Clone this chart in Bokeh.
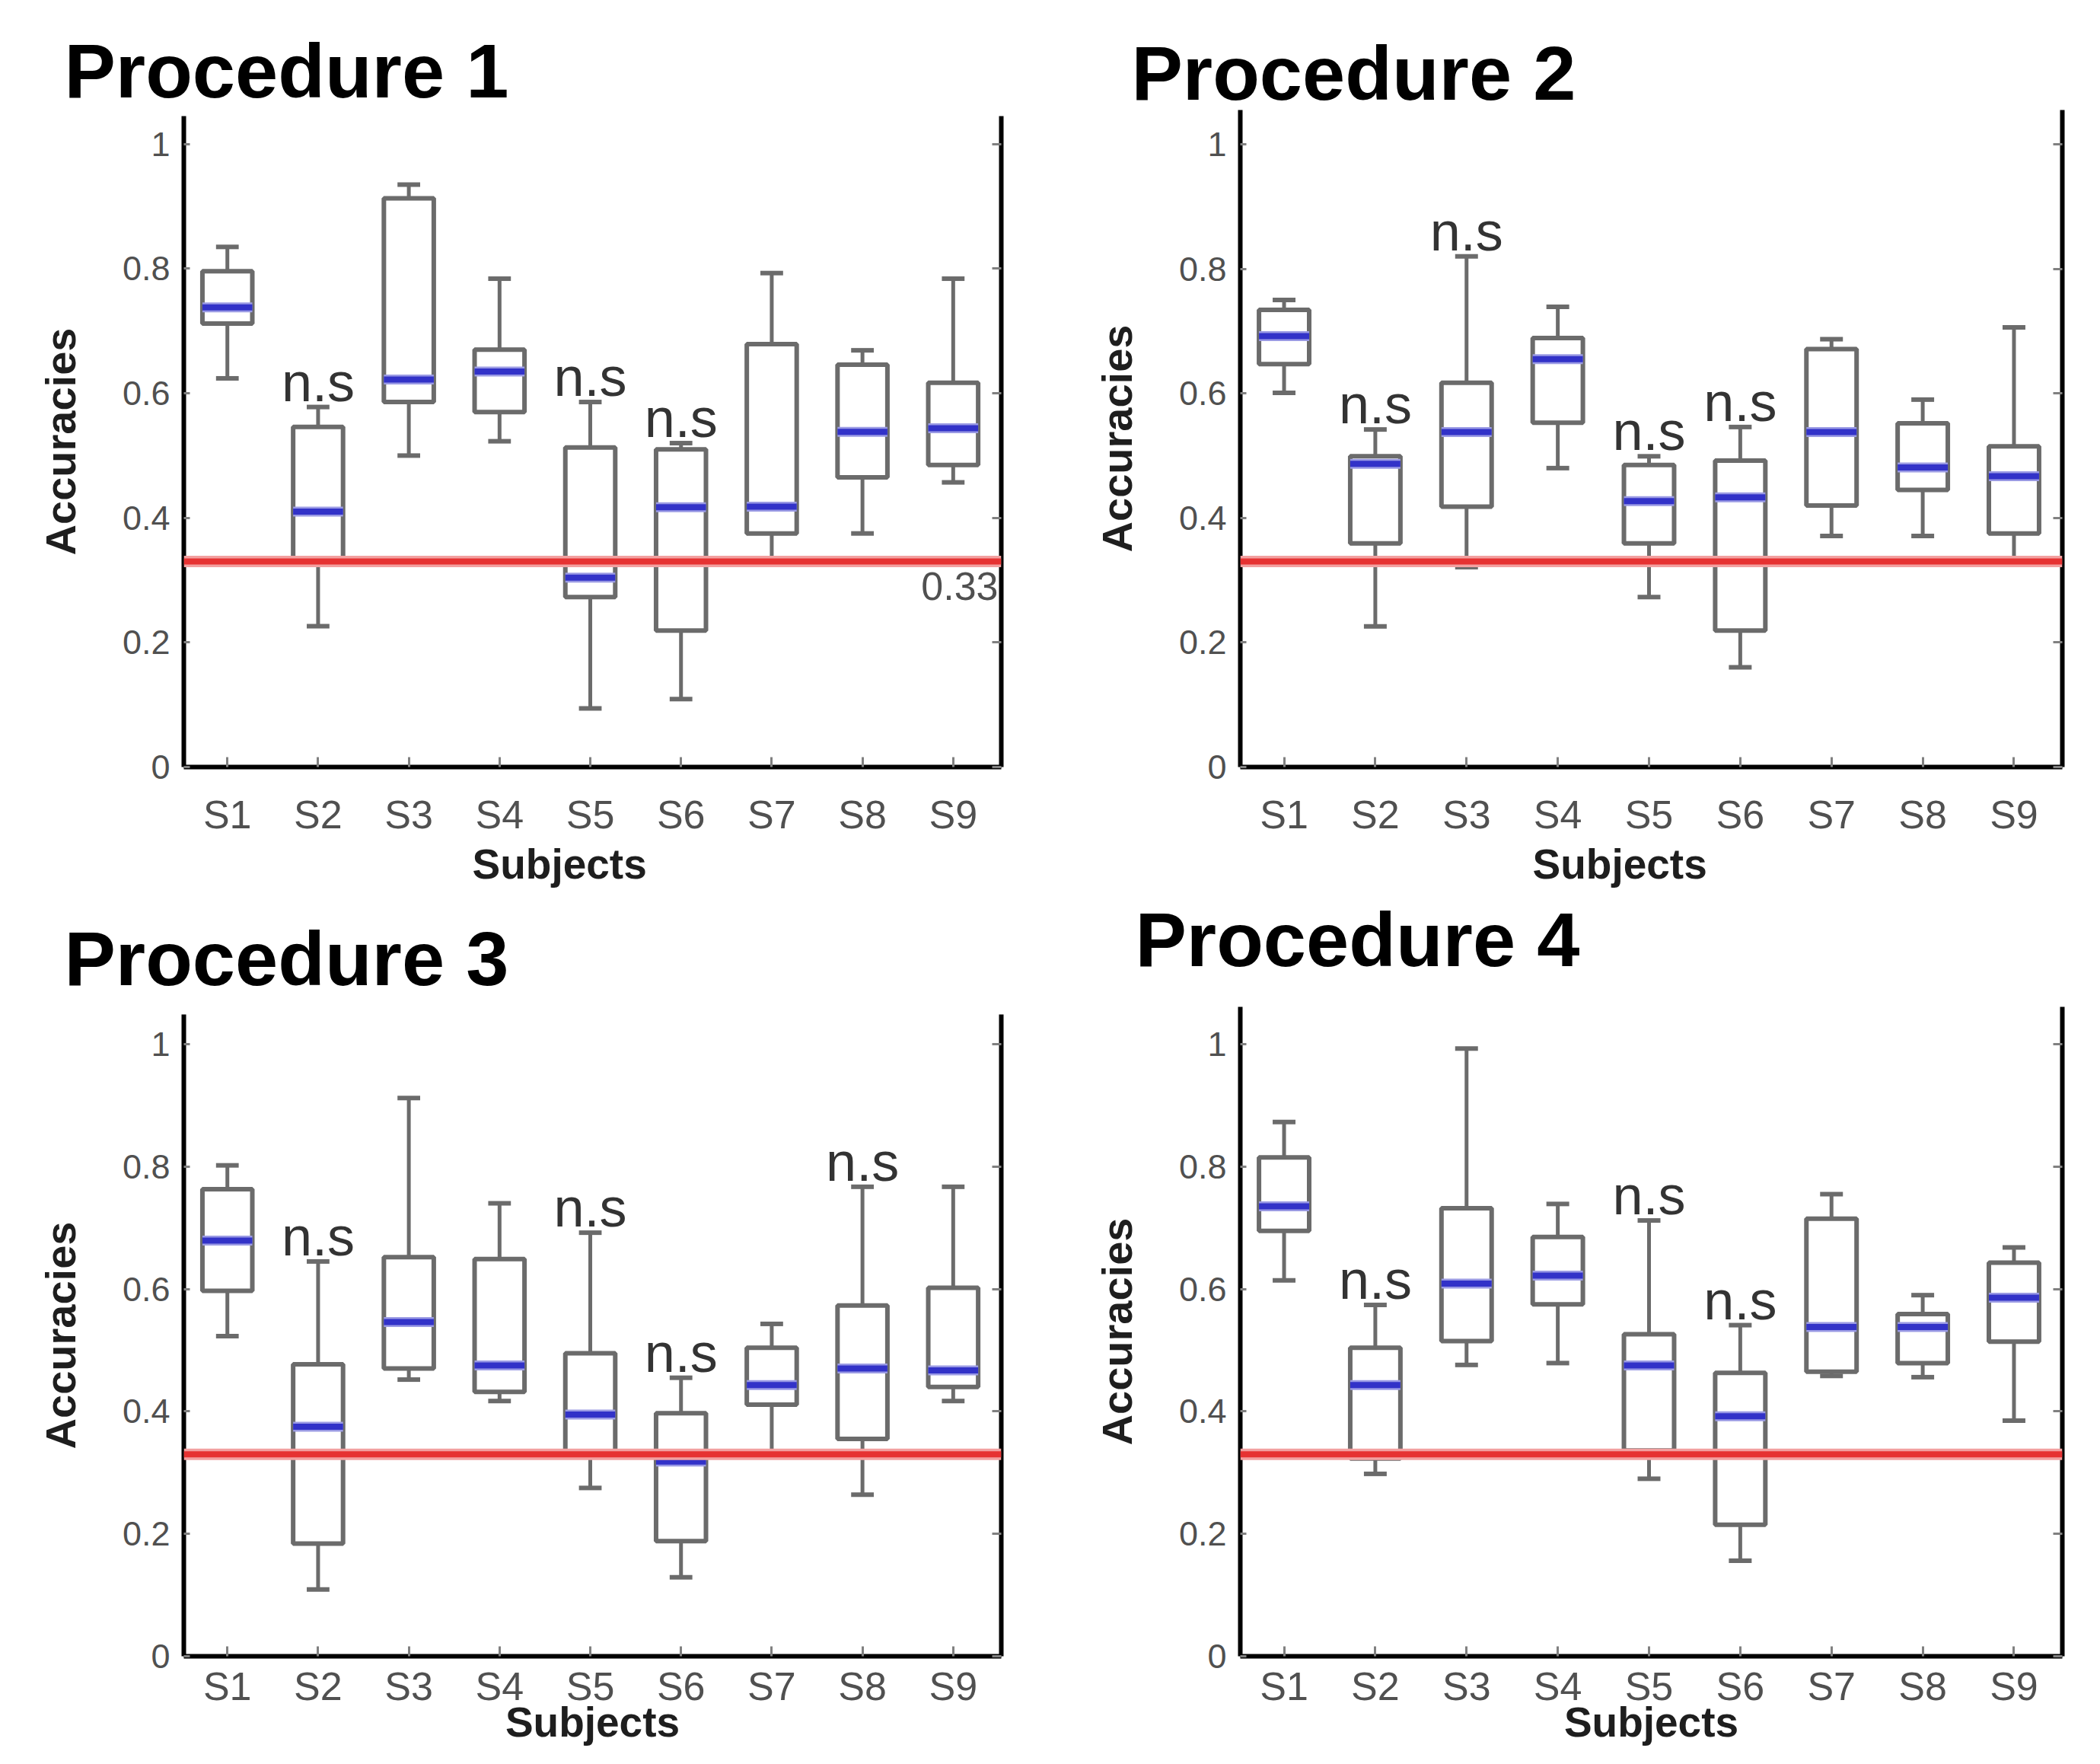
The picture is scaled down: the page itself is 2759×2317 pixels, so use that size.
from bokeh.plotting import figure
from bokeh.models import Range1d, LinearAxis, FixedTicker, Label, Span, ColumnDataSource, Title
from bokeh.layouts import column, row
from bokeh.embed import file_html
from bokeh.resources import INLINE
from bokeh.core.properties import value

# ---------------- data ----------------
subjects = ["S1", "S2", "S3", "S4", "S5", "S6", "S7", "S8", "S9"]
y_ticks = [0, 0.2, 0.4, 0.6, 0.8, 1.0]
y_tick_labels = ["0", "0.2", "0.4", "0.6", "0.8", "1"]
chance_level = 0.33
titles = ["Procedure 1", "Procedure 2", "Procedure 3", "Procedure 4"]

p1_high = [0.835, 0.578, 0.935, 0.784, 0.586, 0.520, 0.793, 0.669, 0.784]
p1_q3   = [0.796, 0.546, 0.913, 0.670, 0.513, 0.510, 0.679, 0.646, 0.617]
p1_med  = [0.738, 0.410, 0.622, 0.635, 0.304, 0.417, 0.418, 0.538, 0.544]
p1_q1   = [0.712, 0.332, 0.586, 0.570, 0.273, 0.219, 0.375, 0.465, 0.485]
p1_low  = [0.624, 0.226, 0.500, 0.523, 0.094, 0.109, 0.332, 0.375, 0.457]
p1_ns   = ["S2", "S5", "S6"]

p2_high = [0.750, 0.542, 0.820, 0.739, 0.499, 0.546, 0.687, 0.590, 0.706]
p2_q3   = [0.734, 0.499, 0.617, 0.689, 0.485, 0.492, 0.671, 0.552, 0.515]
p2_med  = [0.692, 0.487, 0.538, 0.655, 0.427, 0.433, 0.538, 0.481, 0.467]
p2_q1   = [0.647, 0.359, 0.418, 0.553, 0.359, 0.219, 0.420, 0.445, 0.375]
p2_low  = [0.601, 0.226, 0.321, 0.480, 0.273, 0.160, 0.371, 0.371, 0.332]
p2_ns   = ["S2", "S3", "S5", "S6"]

p3_high = [0.802, 0.645, 0.912, 0.740, 0.692, 0.455, 0.543, 0.767, 0.767]
p3_q3   = [0.763, 0.477, 0.652, 0.649, 0.495, 0.397, 0.504, 0.573, 0.602]
p3_med  = [0.679, 0.375, 0.546, 0.475, 0.395, 0.318, 0.443, 0.470, 0.467]
p3_q1   = [0.597, 0.184, 0.470, 0.432, 0.334, 0.188, 0.411, 0.355, 0.440]
p3_low  = [0.523, 0.109, 0.452, 0.417, 0.275, 0.129, 0.334, 0.264, 0.417]
p3_ns   = ["S2", "S5", "S6", "S8"]

p4_high = [0.873, 0.574, 0.993, 0.739, 0.712, 0.541, 0.755, 0.590, 0.668]
p4_q3   = [0.815, 0.504, 0.732, 0.685, 0.526, 0.463, 0.715, 0.559, 0.643]
p4_med  = [0.735, 0.443, 0.609, 0.622, 0.475, 0.392, 0.538, 0.538, 0.586]
p4_q1   = [0.695, 0.323, 0.515, 0.575, 0.336, 0.215, 0.465, 0.479, 0.514]
p4_low  = [0.614, 0.298, 0.476, 0.479, 0.290, 0.156, 0.458, 0.456, 0.385]
p4_ns   = ["S2", "S5", "S6"]

# ---------------- style ----------------
FONT = "Liberation Sans"
BOX_W = 0.55
CAP_W = 0.25
BOX_COLOR = "#6b6b6b"
MED_COLOR = "#3232c8"
MED_HALO = "#9a9ae4"
RED = "#e63232"
PINK = "#f2a0a0"
TICK_COLOR = "#808080"
LABEL_COLOR = "#505050"
TITLE_SIZE = "101px"

geoms = [
    dict(w=1380, h=1172, left=241, right=60, top=152, bottom=165, yend=1.045,
         toff=-157, tstand=8, xstand=33, xl_mode="title", xl_off=379),
    dict(w=1363, h=1321, left=249, right=34, top=144, bottom=314, yend=1.055,
         toff=-143, tstand=-14, xstand=33, xl_mode="title", xl_off=384),
    dict(w=1380, h=1129, left=241, right=65, top=160, bottom=126, yend=1.0485,
         toff=-157, tstand=36, xstand=10, xl_mode="axis", xl_off=0),
    dict(w=1363, h=980, left=249, right=27, top=1, bottom=126, yend=1.061,
         toff=None, tstand=0, xstand=10, xl_mode="axis", xl_off=0),
]


def make_panel(title, low, q1, med, q3, high, ns, g, show_chance_text=False, title_below=None):
    xs = list(range(1, len(subjects) + 1))
    p = figure(width=g["w"], height=g["h"], output_backend="svg", toolbar_location=None,
               x_range=Range1d(0.52, 9.53), y_range=Range1d(0, g["yend"]),
               title=title,
               min_border_left=g["left"], min_border_right=g["right"],
               min_border_top=g["top"], min_border_bottom=g["bottom"])
    p.outline_line_color = None
    p.xgrid.visible = False
    p.ygrid.visible = False
    p.background_fill_color = "white"
    p.border_fill_color = "white"

    # title
    if title is not None:
        p.title.align = "left"
        p.title.offset = g["toff"]
        p.title.standoff = g["tstand"]
        p.title.text_font = FONT
        p.title.text_font_size = TITLE_SIZE
        p.title.text_font_style = "bold"
        p.title.text_color = "black"

    # x axis
    xa = p.xaxis[0]
    xa.ticker = FixedTicker(ticks=xs)
    xa.major_label_overrides = {x: s for x, s in zip(xs, subjects)}
    xa.major_label_text_font = FONT
    xa.major_label_text_font_size = "52px"
    xa.major_label_text_color = LABEL_COLOR
    xa.major_label_standoff = g["xstand"]
    xa.axis_line_width = 6
    xa.axis_line_color = "black"
    xa.major_tick_in = 13
    xa.major_tick_out = 0
    xa.major_tick_line_width = 3
    xa.major_tick_line_color = TICK_COLOR
    xa.minor_tick_line_color = None

    # x axis title
    if g["xl_mode"] == "title":
        # placed a little left of centre, as in the original
        p.add_layout(Title(text="Subjects", align="left", offset=g["xl_off"], standoff=0,
                           text_font=FONT, text_font_size="55px", text_font_style="bold",
                           text_color="#1e1e1e"), "below")
    else:
        xa.axis_label = "Subjects"
        xa.axis_label_text_font = FONT
        xa.axis_label_text_font_size = "55px"
        xa.axis_label_text_font_style = "bold"
        xa.axis_label_text_color = "#1e1e1e"
        xa.axis_label_standoff = -16

    # heading of the panel underneath (drawn in this canvas for exact placement)
    if title_below is not None:
        p.add_layout(Title(text=title_below, align="left", offset=-138, standoff=20,
                           text_font=FONT, text_font_size=TITLE_SIZE, text_font_style="bold",
                           text_color="black"), "below")

    # y axis
    ya = p.yaxis[0]
    ya.ticker = FixedTicker(ticks=y_ticks)
    ya.major_label_overrides = {t: s for t, s in zip(y_ticks, y_tick_labels)}
    ya.major_label_text_font = FONT
    ya.major_label_text_font_size = "45px"
    ya.major_label_text_color = LABEL_COLOR
    ya.major_label_standoff = 18
    ya.axis_line_width = 6
    ya.axis_line_color = "black"
    ya.major_tick_in = 8
    ya.major_tick_out = 0
    ya.major_tick_line_width = 3
    ya.major_tick_line_color = TICK_COLOR
    ya.minor_tick_line_color = None
    ya.axis_label = "Accuracies"
    ya.axis_label_text_font = FONT
    ya.axis_label_text_font_size = "56px"
    ya.axis_label_text_font_style = "bold"
    ya.axis_label_text_color = "#1e1e1e"
    ya.axis_label_standoff = 47

    # right axis: frame line with inward ticks, labels not drawn
    ra = LinearAxis(ticker=FixedTicker(ticks=y_ticks))
    ra.major_label_text_font_size = "1px"
    ra.major_label_text_color = None
    ra.major_label_standoff = 0
    ra.axis_line_width = 6
    ra.axis_line_color = "black"
    ra.major_tick_in = 12
    ra.major_tick_out = 0
    ra.major_tick_line_width = 3
    ra.major_tick_line_color = TICK_COLOR
    ra.minor_tick_line_color = None
    p.add_layout(ra, "right")

    src = ColumnDataSource(dict(
        x=xs, low=low, q1=q1, med=med, q3=q3, high=high,
        bl=[x - BOX_W / 2 for x in xs], br=[x + BOX_W / 2 for x in xs],
        cl=[x - CAP_W / 2 for x in xs], cr=[x + CAP_W / 2 for x in xs],
    ))

    # whiskers
    p.segment(x0="x", y0="q3", x1="x", y1="high", source=src, line_color=BOX_COLOR, line_width=5)
    p.segment(x0="x", y0="q1", x1="x", y1="low", source=src, line_color=BOX_COLOR, line_width=5)
    p.segment(x0="cl", y0="high", x1="cr", y1="high", source=src, line_color=BOX_COLOR, line_width=6)
    p.segment(x0="cl", y0="low", x1="cr", y1="low", source=src, line_color=BOX_COLOR, line_width=6)
    # boxes
    p.vbar(x="x", width=BOX_W, bottom="q1", top="q3", source=src,
           fill_color="white", line_color=BOX_COLOR, line_width=6)

    # chance line
    p.add_layout(Span(location=chance_level, dimension="width", line_color=PINK, line_width=15))
    p.add_layout(Span(location=chance_level, dimension="width", line_color=RED, line_width=8))

    # medians
    p.segment(x0="bl", y0="med", x1="br", y1="med", source=src, line_color=MED_HALO, line_width=13)
    p.segment(x0="bl", y0="med", x1="br", y1="med", source=src, line_color=MED_COLOR, line_width=8)

    # n.s labels
    ns_x = [subjects.index(s) + 1 for s in ns]
    ns_y = [high[subjects.index(s)] for s in ns]
    p.text(x=ns_x, y=ns_y, text=["n.s"] * len(ns), text_font=value(FONT),
           text_font_size="72px", text_color="#333333", text_align="center",
           text_baseline="alphabetic", y_offset=-33)

    if show_chance_text:
        p.add_layout(Label(x=9.53, y=chance_level, x_offset=-4, y_offset=-14, text="0.33",
                           text_font=FONT, text_font_size="52px", text_color=LABEL_COLOR,
                           text_align="right", text_baseline="top"))
    return p


p1 = make_panel(titles[0], p1_low, p1_q1, p1_med, p1_q3, p1_high, p1_ns, geoms[0], True)
p2 = make_panel(titles[1], p2_low, p2_q1, p2_med, p2_q3, p2_high, p2_ns, geoms[1],
                title_below=titles[3])
p3 = make_panel(titles[2], p3_low, p3_q1, p3_med, p3_q3, p3_high, p3_ns, geoms[2])
p4 = make_panel(None, p4_low, p4_q1, p4_med, p4_q3, p4_high, p4_ns, geoms[3])

layout = row(column(p1, p3, spacing=0), column(p2, p4, spacing=0), spacing=0)
open("out.html", "w").write(file_html(layout, INLINE))
